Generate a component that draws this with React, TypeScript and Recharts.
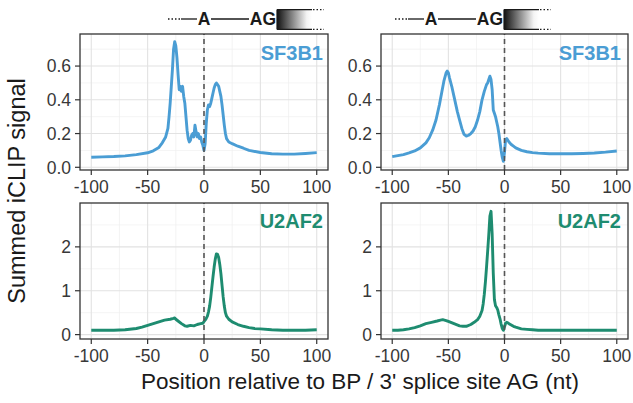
import React from 'react';
import { LineChart, Line, XAxis, YAxis, ReferenceLine } from 'recharts';

// ---- data ----
const xTicks = [-100, -50, 0, 50, 100];
const xMinor = [-75, -25, 25, 75];
const topTicks = [0, 0.2, 0.4, 0.6];
const topMinor = [0.1, 0.3, 0.5, 0.7];
const bottomTicks = [0, 1, 2];
const bottomMinor = [0.5, 1.5, 2.5];

const sf3b1BpPos = [-100,-90,-80,-70,-60,-50,-45,-40,-37,-34,-32,-31,-30,-29,-28,-27,-26,-25,-24,-23,-22,-21,-20,-19,-18,-17,-16,-15,-14,-13,-12,-11,-10,-9,-8,-7,-6,-5,-4,-3,-2,-1,0,1,2,3,4,5,6,7,8,9,10,11,12,13,14,15,16,17,18,19,20,22,25,30,35,40,50,60,70,80,90,100];
const sf3b1BpVal = [0.060,0.062,0.064,0.068,0.075,0.086,0.098,0.118,0.145,0.18,0.23,0.30,0.38,0.48,0.58,0.70,0.745,0.72,0.65,0.55,0.46,0.48,0.45,0.48,0.42,0.38,0.30,0.22,0.17,0.15,0.16,0.19,0.20,0.18,0.25,0.21,0.18,0.20,0.17,0.18,0.15,0.13,0.10,0.14,0.26,0.34,0.37,0.36,0.38,0.41,0.44,0.47,0.49,0.50,0.49,0.48,0.45,0.42,0.37,0.31,0.25,0.20,0.17,0.15,0.14,0.125,0.113,0.10,0.088,0.080,0.078,0.078,0.082,0.087];

const sf3b1AgPos = [-100,-90,-85,-80,-75,-70,-67,-64,-61,-58,-56,-54,-52,-51,-50,-49,-47,-45,-42,-40,-38,-36,-34,-32,-30,-28,-26,-24,-22,-20,-18,-16,-15,-14,-13,-12,-11,-10,-9,-8,-7,-6,-5,-4,-3,-2,-1,0,1,2,3,4,6,8,10,15,20,25,30,40,50,60,70,80,90,100];
const sf3b1AgVal = [0.063,0.075,0.085,0.097,0.115,0.145,0.175,0.22,0.28,0.37,0.44,0.51,0.56,0.57,0.56,0.53,0.48,0.42,0.33,0.28,0.23,0.195,0.185,0.19,0.20,0.215,0.24,0.28,0.33,0.40,0.45,0.49,0.50,0.52,0.54,0.52,0.46,0.34,0.32,0.30,0.27,0.24,0.20,0.15,0.10,0.06,0.035,0.09,0.165,0.17,0.16,0.15,0.135,0.125,0.115,0.10,0.092,0.087,0.084,0.080,0.080,0.080,0.082,0.085,0.090,0.097];

const u2af2BpPos = [-100,-90,-80,-70,-60,-55,-50,-45,-40,-35,-30,-27,-26,-25,-23,-20,-17,-15,-12,-9,-6,-3,-1,0,1,2,3,4,5,6,7,8,9,10,11,12,13,14,15,16,17,18,19,20,22,25,30,35,40,45,50,60,70,80,90,100];
const u2af2BpVal = [0.10,0.10,0.10,0.11,0.14,0.17,0.21,0.25,0.29,0.33,0.35,0.37,0.38,0.35,0.31,0.25,0.20,0.19,0.21,0.20,0.23,0.25,0.26,0.30,0.33,0.37,0.42,0.52,0.65,0.85,1.09,1.32,1.54,1.72,1.84,1.83,1.76,1.60,1.39,1.12,0.86,0.65,0.50,0.42,0.35,0.29,0.23,0.19,0.16,0.14,0.13,0.11,0.10,0.10,0.10,0.11];

const u2af2AgPos = [-100,-95,-90,-85,-80,-75,-70,-65,-60,-57,-55,-52,-50,-45,-40,-37,-34,-30,-27,-24,-22,-20,-19,-18,-17,-16,-15,-14,-13,-12,-11,-10,-9,-8,-7,-6,-5,-4,-3,-2,-1,0,1,2,3,4,6,8,10,15,20,25,30,50,75,100];
const u2af2AgVal = [0.10,0.10,0.11,0.13,0.16,0.20,0.25,0.28,0.31,0.33,0.34,0.32,0.30,0.25,0.20,0.19,0.19,0.23,0.28,0.34,0.42,0.55,0.70,0.92,1.20,1.54,1.90,2.28,2.70,2.81,2.30,1.40,0.80,0.66,0.62,0.56,0.45,0.36,0.24,0.14,0.10,0.18,0.26,0.28,0.27,0.25,0.22,0.19,0.17,0.13,0.12,0.11,0.10,0.10,0.10,0.10];

const toRows = (xs: number[], ys: number[]) => xs.map((x, i) => ({ x, y: ys[i] }));

const BLUE = '#4a9dd4';
const GREEN = '#1e8c70';
const FONT = '"Liberation Sans", Arial, Helvetica, sans-serif';

type PanelProps = {
  data: { x: number; y: number }[];
  color: string;
  yDomain: [number, number];
  yTicks: number[];
  yMinor: number[];
  fmt: (v: number) => string;
  yAxisWidth: number;
  width: number;
  marginRight: number;
};

function Panel({ data, color, yDomain, yTicks, yMinor, fmt, yAxisWidth, width, marginRight }: PanelProps) {
  const tickStyle = { fill: '#383838', fontSize: 17.5, fontFamily: FONT };
  return (
    <LineChart width={width} height={200} data={data} margin={{ top: 34, right: marginRight, left: 0, bottom: 0 }}>
      <XAxis
        dataKey="x"
        type="number"
        domain={[-110, 110]}
        ticks={xTicks}
        interval={0}
        allowDataOverflow
        height={30}
        axisLine={false}
        tickSize={5}
        tickMargin={6}
        tickLine={{ stroke: '#333', strokeWidth: 1.2 }}
        tick={tickStyle}
      />
      <YAxis
        type="number"
        domain={yDomain}
        ticks={yTicks}
        interval={0}
        allowDataOverflow
        width={yAxisWidth}
        axisLine={false}
        tickSize={5}
        tickMargin={4}
        tickLine={{ stroke: '#333', strokeWidth: 1.2 }}
        tick={tickStyle}
        tickFormatter={fmt}
      />
      {xMinor.map((v) => (
        <ReferenceLine key={'xm' + v} x={v} stroke="#efefef" strokeWidth={0.7} />
      ))}
      {yMinor.map((v) => (
        <ReferenceLine key={'ym' + v} y={v} stroke="#efefef" strokeWidth={0.7} />
      ))}
      {xTicks.map((v) => (
        <ReferenceLine key={'xM' + v} x={v} stroke="#e2e2e2" strokeWidth={1.1} />
      ))}
      {yTicks.map((v) => (
        <ReferenceLine key={'yM' + v} y={v} stroke="#e2e2e2" strokeWidth={1.1} />
      ))}
      <Line
        type="linear"
        dataKey="y"
        stroke={color}
        strokeWidth={2.9}
        dot={false}
        isAnimationActive={false}
        strokeLinejoin="round"
      />
      <ReferenceLine x={0} stroke="#555" strokeDasharray="5 4" strokeWidth={1.6} />
    </LineChart>
  );
}

function Schematic({ dx }: { dx: number }) {
  const s = '#1a1a1a';
  return (
    <g transform={`translate(${dx},0)`}>
      <line x1={168} x2={181} y1={19} y2={19} stroke={s} strokeWidth={1.3} strokeDasharray="1.5 2" />
      <line x1={181} x2={197} y1={19} y2={19} stroke={s} strokeWidth={1.3} />
      <text x={204} y={25} textAnchor="middle" fontWeight="bold" fontSize={17.5} fontFamily={FONT} fill={s}>A</text>
      <line x1={211} x2={249} y1={19} y2={19} stroke={s} strokeWidth={1.3} />
      <text x={276} y={25} textAnchor="end" fontWeight="bold" fontSize={17.5} fontFamily={FONT} fill={s}>AG</text>
      <rect x={277} y={9.5} width={35} height={20} fill="url(#fadeGrad)" />
      <line x1={277} x2={277} y1={9.5} y2={29.5} stroke={s} strokeWidth={1.2} />
      <line x1={277} x2={312} y1={9.7} y2={9.7} stroke={s} strokeWidth={1.3} />
      <line x1={277} x2={312} y1={29.3} y2={29.3} stroke={s} strokeWidth={1.3} />
      <line x1={313} x2={324} y1={9.7} y2={9.7} stroke={s} strokeWidth={1.3} strokeDasharray="1.5 2" />
      <line x1={313} x2={324} y1={29.3} y2={29.3} stroke={s} strokeWidth={1.3} strokeDasharray="1.5 2" />
    </g>
  );
}

export default function App() {
  const topDomain: [number, number] = [-0.016, 0.79];
  const botDomain: [number, number] = [-0.1, 3.0];
  const f1 = (v: number) => v.toFixed(1);
  const f0 = (v: number) => String(v);
  const panels = [
    { left: 0, top: 0, data: toRows(sf3b1BpPos, sf3b1BpVal), color: BLUE, d: topDomain, t: topTicks, m: topMinor, f: f1, yw: 80, w: 331, mr: 3 },
    { left: 331, top: 0, data: toRows(sf3b1AgPos, sf3b1AgVal), color: BLUE, d: topDomain, t: topTicks, m: topMinor, f: f1, yw: 50, w: 302, mr: 5 },
    { left: 0, top: 169, data: toRows(u2af2BpPos, u2af2BpVal), color: GREEN, d: botDomain, t: bottomTicks, m: bottomMinor, f: f0, yw: 80, w: 331, mr: 3 },
    { left: 331, top: 169, data: toRows(u2af2AgPos, u2af2AgVal), color: GREEN, d: botDomain, t: bottomTicks, m: bottomMinor, f: f0, yw: 50, w: 302, mr: 5 },
  ];
  const frames = [
    { x: 80, y: 34, w: 248, h: 136 },
    { x: 381, y: 34, w: 247, h: 136 },
    { x: 80, y: 203, w: 248, h: 136 },
    { x: 381, y: 203, w: 247, h: 136 },
  ];
  return (
    <div style={{ position: 'absolute', left: 0, top: 0, width: 633, height: 403, background: '#fff', overflow: 'hidden' }}>
      {panels.map((p, i) => (
        <div key={i} style={{ position: 'absolute', left: p.left, top: p.top }}>
          <Panel data={p.data} color={p.color} yDomain={p.d} yTicks={p.t} yMinor={p.m} fmt={p.f} yAxisWidth={p.yw} width={p.w} marginRight={p.mr} />
        </div>
      ))}
      <svg width={633} height={403} style={{ position: 'absolute', left: 0, top: 0, pointerEvents: 'none' }}>
        <defs>
          <linearGradient id="fadeGrad" x1="0" x2="1" y1="0" y2="0">
            <stop offset="0" stopColor="#111" />
            <stop offset="0.85" stopColor="#f4f4f4" />
            <stop offset="1" stopColor="#fff" />
          </linearGradient>
        </defs>
        {frames.map((r, i) => (
          <rect key={i} x={r.x} y={r.y} width={r.w} height={r.h} fill="none" stroke="#333" strokeWidth={1.3} />
        ))}
        <text x={323} y={60} textAnchor="end" fontWeight="bold" fontSize={20} fontFamily={FONT} fill={BLUE}>SF3B1</text>
        <text x={621} y={60} textAnchor="end" fontWeight="bold" fontSize={20} fontFamily={FONT} fill={BLUE}>SF3B1</text>
        <text x={323} y={228} textAnchor="end" fontWeight="bold" fontSize={20} fontFamily={FONT} fill={GREEN}>U2AF2</text>
        <text x={621} y={228} textAnchor="end" fontWeight="bold" fontSize={20} fontFamily={FONT} fill={GREEN}>U2AF2</text>
        <Schematic dx={0} />
        <Schematic dx={227} />
        <text transform="translate(25,191) rotate(-90)" textAnchor="middle" fontSize={23.5} fontFamily={FONT} fill="#1a1a1a">Summed iCLIP  signal</text>
        <text x={360} y={389} textAnchor="middle" fontSize={22.5} fontFamily={FONT} fill="#1a1a1a">Position relative to BP / 3' splice site AG (nt)</text>
      </svg>
    </div>
  );
}
